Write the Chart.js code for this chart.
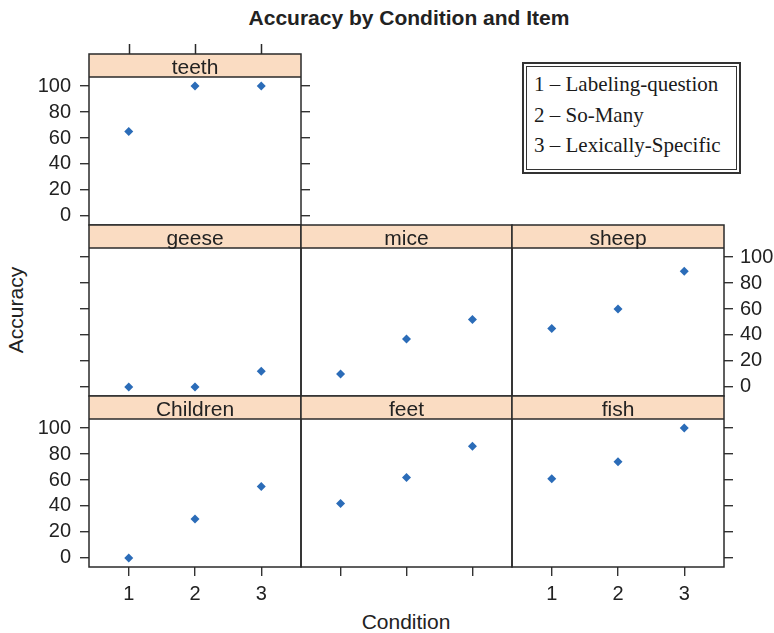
<!DOCTYPE html>
<html>
<head>
<meta charset="utf-8">
<title>Accuracy by Condition and Item</title>
<script src="https://cdn.jsdelivr.net/npm/chart.js@4.4.1/dist/chart.umd.min.js"></script>
<style>
  body { margin: 0; background: #fff; }
  #page { position: relative; width: 774px; height: 633px; overflow: hidden;
          font-family: "Liberation Sans", Arial, sans-serif; color: #222; }
  #page canvas { position: absolute; }
  .title { position: absolute; left: 409px; top: 7px; transform: translateX(-50%);
           font-weight: bold; font-size: 21px; line-height: 21px; white-space: nowrap; }
  .ylab { position: absolute; left: 15px; top: 310px; font-size: 21px; line-height: 21px;
          transform: translate(-50%, -50%) rotate(-90deg); white-space: nowrap; }
  .xlab { position: absolute; left: 406px; top: 621px; font-size: 21px; line-height: 21px;
          transform: translate(-50%, -50%); white-space: nowrap; }
  .key-out { position: absolute; left: 522px; top: 62px; width: 219px; height: 112px;
             box-sizing: border-box; border: 2px solid #333; }
  .key-in { position: absolute; left: 2px; top: 2px; right: 2px; bottom: 2px; border: 1.5px solid #333; }
  .key-text { position: absolute; left: 534px; top: 69px; font-family: "Liberation Serif", "Times New Roman", serif;
              font-size: 21px; line-height: 30.5px; color: #1a1a1a; white-space: nowrap; }
</style>
</head>
<body>
<div id="page">
  <div class="title">Accuracy by Condition and Item</div>
  <div class="ylab">Accuracy</div>
  <div class="xlab">Condition</div>
  <div class="key-out"><div class="key-in"></div></div>
  <div class="key-text" id="key"></div>
</div>
<script>
// data
const conditions = [1, 2, 3];
const items = ['teeth', 'geese', 'mice', 'sheep', 'Children', 'feet', 'fish'];
const teeth = [65, 100, 100];
const geese = [0, 0, 12];
const mice = [10, 37, 52];
const sheep = [45, 60, 89];
const children = [0, 30, 55];
const feet = [42, 62, 86];
const fish = [61, 74, 100];
const accuracyTicks = [0, 20, 40, 60, 80, 100];
const keyLines = ['1 \u2013 Labeling-question', '2 \u2013 So-Many', '3 \u2013 Lexically-Specific'];

const values = [teeth, geese, mice, sheep, children, feet, fish];

// lattice layout: which panel sits where and which axis sides it carries
const panels = [
  {row: 0, col: 0, left: 'labels', right: 'ticks', top: true},
  {row: 1, col: 0, left: 'ticks'},
  {row: 1, col: 1},
  {row: 1, col: 2, right: 'labels'},
  {row: 2, col: 0, left: 'labels', bottom: 'labels'},
  {row: 2, col: 1, bottom: 'ticks'},
  {row: 2, col: 2, right: 'ticks', bottom: 'labels'},
];

const COL_X = [89, 301, 512];
const COL_W = [212, 211, 212];
const STRIP_Y = [54, 225, 396];
const STRIP = 23;
const PLOT_H = 148;
const M = 50;
const INK = '#222';
const TICK_INK = '#333';

Chart.defaults.font.family = '"Liberation Sans", Arial, sans-serif';
Chart.defaults.color = INK;

document.getElementById('key').innerHTML = keyLines.map(s => '<div>' + s + '</div>').join('');

const frame = {
  id: 'frame',
  afterDraw(chart, args, opts) {
    const {ctx, chartArea: a} = chart;
    const stripTop = a.top - STRIP;
    ctx.save();
    ctx.fillStyle = '#fadcc2';
    ctx.fillRect(a.left, stripTop, a.right - a.left, STRIP);
    ctx.strokeStyle = '#2a2a2a';
    ctx.lineWidth = 1.5;
    ctx.strokeRect(a.left, stripTop, a.right - a.left, a.bottom - stripTop);
    ctx.beginPath();
    ctx.moveTo(a.left, a.top);
    ctx.lineTo(a.right, a.top);
    if (opts.topTicks) {
      const xs = chart.scales.x;
      conditions.forEach(c => {
        const px = Math.round(xs.getPixelForValue(c)) + 0.5;
        ctx.moveTo(px, stripTop);
        ctx.lineTo(px, stripTop - 10);
      });
    }
    ctx.stroke();
    ctx.fillStyle = INK;
    ctx.font = '21px "Liberation Sans", Arial, sans-serif';
    ctx.textAlign = 'center';
    ctx.textBaseline = 'alphabetic';
    ctx.fillText(opts.label, (a.left + a.right) / 2, stripTop + 20);
    ctx.restore();
  }
};

function xAxis(mode) {
  return {
    type: 'linear', position: 'bottom', min: 0.4, max: 3.6,
    afterBuildTicks: s => { s.ticks = conditions.map(v => ({value: v})); },
    afterFit: s => { s.height = M; },
    ticks: {display: mode === 'labels', padding: 6, color: INK, font: {size: 20}},
    grid: {display: !!mode, drawOnChartArea: false, drawTicks: true, tickLength: 9, color: TICK_INK, lineWidth: 1.4},
    border: {display: false}
  };
}

function yAxis(pos, mode) {
  return {
    type: 'linear', position: pos, min: -7, max: 107,
    afterBuildTicks: s => { s.ticks = accuracyTicks.map(v => ({value: v})); },
    afterFit: s => { s.width = M; },
    ticks: {display: mode === 'labels', padding: pos === 'left' ? 9 : 7, color: INK, font: {size: 20}},
    grid: {display: !!mode, drawOnChartArea: false, drawTicks: true, tickLength: 9, color: TICK_INK, lineWidth: 1.4},
    border: {display: false}
  };
}

const page = document.getElementById('page');

panels.forEach((p, i) => {
  const w = COL_W[p.col] + 2 * M;
  const h = STRIP + PLOT_H + 2 * M;
  const canvas = document.createElement('canvas');
  canvas.width = w;
  canvas.height = h;
  canvas.style.left = (COL_X[p.col] - M) + 'px';
  canvas.style.top = (STRIP_Y[p.row] - M) + 'px';
  canvas.style.width = w + 'px';
  canvas.style.height = h + 'px';
  page.appendChild(canvas);

  new Chart(canvas, {
    type: 'scatter',
    data: {
      datasets: [{
        label: items[i],
        data: conditions.map((c, k) => ({x: c, y: values[i][k]})),
        pointStyle: 'rectRot',
        pointRadius: 4.5,
        backgroundColor: '#2b6cb8',
        borderWidth: 0
      }]
    },
    options: {
      responsive: false,
      animation: false,
      devicePixelRatio: 1,
      layout: {padding: {top: M + STRIP, left: 0, right: 0, bottom: 0}},
      plugins: {
        legend: {display: false},
        tooltip: {enabled: false},
        frame: {label: items[i], topTicks: !!p.top}
      },
      scales: {
        x: xAxis(p.bottom),
        y: yAxis('left', p.left),
        y2: yAxis('right', p.right)
      }
    },
    plugins: [frame]
  });
});
</script>
</body>
</html>
